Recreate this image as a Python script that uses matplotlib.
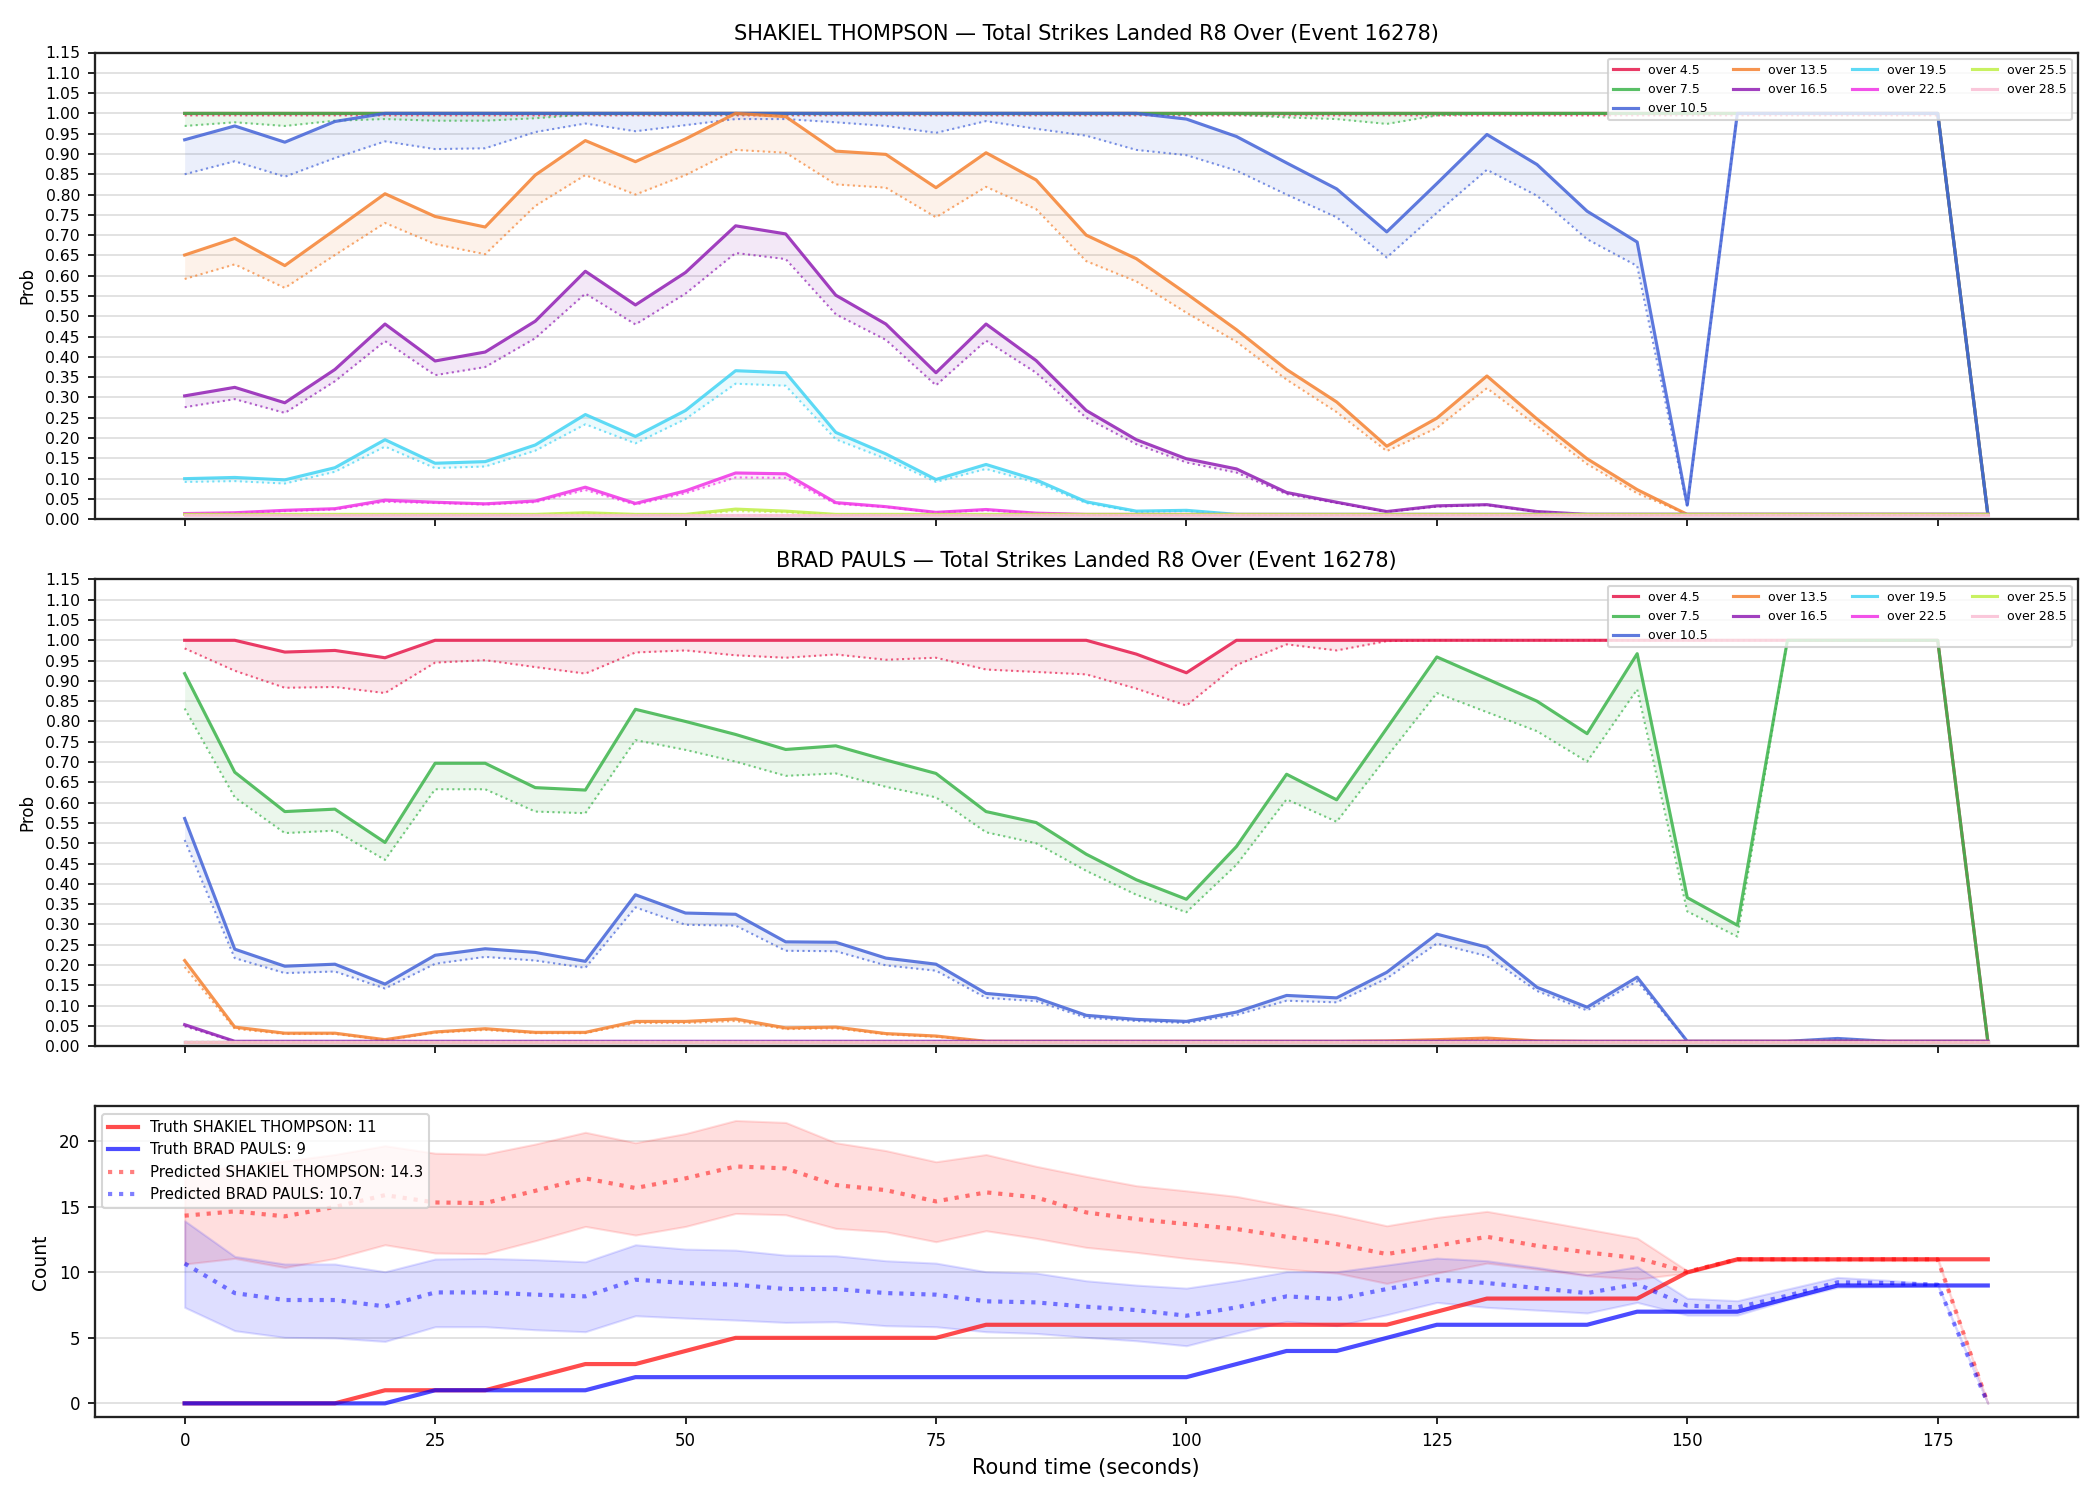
import numpy as np
import matplotlib
matplotlib.use("Agg")
import matplotlib.pyplot as plt

# round time, 5 second steps
t = np.arange(0, 181, 5)

thresholds = ["over 4.5", "over 7.5", "over 10.5", "over 13.5", "over 16.5",
              "over 19.5", "over 22.5", "over 25.5", "over 28.5"]
colors = ["#e6194b", "#3cb44b", "#4363d8", "#f58231", "#911eb4",
          "#42d4f4", "#f032e6", "#bfef45", "#fabed4"]

# ---- SHAKIEL THOMPSON: solid = market, dotted = model
thompson_line = [
    [1.0] * 36 + [0.013],
    [1.0] * 36 + [0.013],
    [0.935, 0.969, 0.929, 0.98] + [1.0] * 16
    + [0.986, 0.943, 0.878, 0.814, 0.708, 0.827, 0.948, 0.874, 0.759, 0.683, 0.035]
    + [1.0] * 5 + [0.013],
    [0.651, 0.692, 0.625, 0.713, 0.802, 0.746, 0.72, 0.848, 0.933, 0.881, 0.937, 1.0,
     0.992, 0.907, 0.899, 0.817, 0.903, 0.836, 0.70, 0.642, 0.556, 0.467, 0.369, 0.289,
     0.18, 0.249, 0.353, 0.247, 0.149, 0.073, 0.012] + [0.012] * 6,
    [0.304, 0.325, 0.287, 0.369, 0.481, 0.39, 0.412, 0.488, 0.611, 0.528, 0.608, 0.723,
     0.703, 0.552, 0.481, 0.361, 0.481, 0.391, 0.268, 0.196, 0.149, 0.124, 0.066, 0.042,
     0.019, 0.033, 0.036, 0.019, 0.012] + [0.012] * 8,
    [0.1, 0.103, 0.097, 0.127, 0.196, 0.138, 0.142, 0.183, 0.258, 0.204, 0.268, 0.366,
     0.361, 0.214, 0.161, 0.098, 0.135, 0.097, 0.043, 0.02, 0.022, 0.012] + [0.012] * 15,
    [0.014, 0.016, 0.022, 0.026, 0.047, 0.042, 0.038, 0.045, 0.079, 0.039, 0.07, 0.114,
     0.112, 0.041, 0.031, 0.017, 0.024, 0.015, 0.012] + [0.012] * 18,
    [0.012] * 8 + [0.016, 0.012, 0.012, 0.025, 0.02] + [0.012] * 24,
    [0.011] * 37,
]
thompson_model = [
    [0.995] * 36 + [0.013],
    [0.969, 0.978, 0.969, 0.982, 0.986, 0.982, 0.982, 0.988] + [0.997] * 14
    + [0.99, 0.986, 0.974, 0.995] + [1.0] * 10 + [0.013],
    [0.85, 0.882, 0.844, 0.89, 0.931, 0.912, 0.914, 0.954, 0.975, 0.956, 0.971, 0.986,
     0.986, 0.978, 0.969, 0.952, 0.981, 0.962, 0.945, 0.91, 0.897, 0.859, 0.80, 0.744,
     0.645, 0.755, 0.861, 0.797, 0.69, 0.624, 0.03] + [1.0] * 5 + [0.013],
    [0.592, 0.628, 0.57, 0.651, 0.73, 0.678, 0.653, 0.772, 0.848, 0.80, 0.848, 0.91,
     0.903, 0.825, 0.817, 0.744, 0.819, 0.764, 0.636, 0.586, 0.509, 0.437, 0.344, 0.264,
     0.168, 0.225, 0.323, 0.23, 0.136, 0.064, 0.012] + [0.012] * 6,
    [0.276, 0.296, 0.262, 0.34, 0.439, 0.355, 0.375, 0.446, 0.556, 0.48, 0.556, 0.656,
     0.641, 0.505, 0.442, 0.33, 0.44, 0.361, 0.25, 0.185, 0.14, 0.115, 0.062, 0.04,
     0.018, 0.031, 0.035, 0.018, 0.012] + [0.012] * 8,
    [0.092, 0.094, 0.088, 0.117, 0.179, 0.126, 0.13, 0.169, 0.234, 0.187, 0.247, 0.334,
     0.329, 0.197, 0.149, 0.092, 0.124, 0.09, 0.04, 0.018, 0.02, 0.012] + [0.012] * 15,
    [0.013, 0.015, 0.02, 0.024, 0.043, 0.04, 0.036, 0.042, 0.072, 0.036, 0.064, 0.103,
     0.102, 0.038, 0.03, 0.016, 0.022, 0.014, 0.012] + [0.012] * 18,
    [0.011] * 8 + [0.014, 0.011, 0.011, 0.02, 0.017] + [0.011] * 24,
    [0.010] * 37,
]

# ---- BRAD PAULS
pauls_line = [
    [1.0, 1.0, 0.971, 0.975, 0.957] + [1.0] * 14 + [0.966, 0.92] + [1.0] * 15 + [0.012],
    [0.918, 0.675, 0.578, 0.584, 0.502, 0.697, 0.697, 0.637, 0.631, 0.83, 0.8, 0.768,
     0.731, 0.74, 0.705, 0.672, 0.578, 0.551, 0.473, 0.41, 0.362, 0.492, 0.67, 0.607,
     0.783, 0.959, 0.905, 0.85, 0.77, 0.967, 0.366, 0.298] + [1.0] * 4 + [0.012],
    [0.561, 0.239, 0.197, 0.202, 0.153, 0.224, 0.24, 0.231, 0.209, 0.373, 0.328, 0.325,
     0.257, 0.256, 0.217, 0.202, 0.13, 0.119, 0.076, 0.066, 0.061, 0.084, 0.125, 0.119,
     0.182, 0.276, 0.244, 0.145, 0.096, 0.17, 0.012, 0.012, 0.012, 0.019, 0.012, 0.012, 0.012],
    [0.211, 0.047, 0.032, 0.032, 0.016, 0.035, 0.043, 0.034, 0.034, 0.061, 0.061, 0.067,
     0.045, 0.047, 0.031, 0.025, 0.012] + [0.012] * 7 + [0.013, 0.016, 0.02, 0.013] + [0.012] * 9,
    [0.053] + [0.012] * 36,
    [0.011] * 37,
    [0.011] * 37,
    [0.011] * 37,
    [0.011] * 37,
]
pauls_model = [
    [0.98, 0.925, 0.883, 0.885, 0.87, 0.945, 0.951, 0.934, 0.918, 0.97, 0.975, 0.963,
     0.957, 0.965, 0.952, 0.957, 0.928, 0.922, 0.916, 0.881, 0.839, 0.939, 0.99, 0.975,
     0.998] + [1.0] * 11 + [0.012],
    [0.832, 0.613, 0.525, 0.531, 0.459, 0.633, 0.633, 0.578, 0.574, 0.754, 0.73, 0.701,
     0.666, 0.672, 0.639, 0.613, 0.527, 0.5, 0.432, 0.373, 0.33, 0.447, 0.608, 0.553,
     0.713, 0.87, 0.823, 0.776, 0.701, 0.879, 0.332, 0.27] + [1.0] * 4 + [0.012],
    [0.508, 0.217, 0.18, 0.184, 0.142, 0.203, 0.22, 0.211, 0.193, 0.342, 0.299, 0.297,
     0.235, 0.234, 0.199, 0.186, 0.119, 0.111, 0.07, 0.062, 0.057, 0.077, 0.112, 0.108,
     0.167, 0.253, 0.222, 0.136, 0.088, 0.16, 0.012, 0.012, 0.012, 0.017, 0.012, 0.012, 0.012],
    [0.195, 0.043, 0.03, 0.03, 0.015, 0.033, 0.04, 0.032, 0.032, 0.057, 0.057, 0.062,
     0.042, 0.044, 0.029, 0.023, 0.012] + [0.012] * 7 + [0.012, 0.014, 0.017, 0.012] + [0.012] * 9,
    [0.049] + [0.011] * 36,
    [0.010] * 37,
    [0.010] * 37,
    [0.010] * 37,
    [0.010] * 37,
]

# ---- counts
truth_thompson = [0, 0, 0, 0, 1, 1, 1, 2, 3, 3, 4, 5, 5, 5, 5, 5, 6, 6, 6, 6, 6, 6, 6, 6, 6,
                  7, 8, 8, 8, 8, 10, 11, 11, 11, 11, 11, 11]
truth_pauls = [0, 0, 0, 0, 0, 1, 1, 1, 1, 2, 2, 2, 2, 2, 2, 2, 2, 2, 2, 2, 2, 3, 4, 4, 5,
               6, 6, 6, 6, 7, 7, 7, 8, 9, 9, 9, 9]
pred_thompson = [14.33, 14.66, 14.28, 15.0, 15.9, 15.34, 15.29, 16.23, 17.18, 16.44, 17.18,
                 18.09, 17.94, 16.67, 16.28, 15.42, 16.11, 15.73, 14.58, 14.07, 13.69, 13.31,
                 12.72, 12.16, 11.4, 12.03, 12.72, 12.03, 11.53, 11.09, 10.05, 11.0, 11.0,
                 11.0, 11.0, 11.0, 0.0]
hi_thompson = [17.5, 18.1, 18.5, 19.0, 19.67, 19.1, 19.03, 19.8, 20.7, 19.9, 20.6, 21.6,
               21.45, 19.9, 19.3, 18.45, 19.0, 18.1, 17.33, 16.62, 16.23, 15.8, 15.09, 14.4,
               13.56, 14.2, 14.66, 14.0, 13.31, 12.62, 10.13, 11.1, 11.1, 11.1, 11.1, 11.1, 0.0]
lo_thompson = [10.64, 11.07, 10.38, 11.07, 12.11, 11.48, 11.43, 12.42, 13.51, 12.85, 13.51,
               14.5, 14.4, 13.36, 13.1, 12.34, 13.18, 12.6, 11.91, 11.53, 11.07, 10.71, 10.25,
               9.95, 9.16, 9.95, 10.71, 10.25, 9.75, 9.49, 9.95, 10.9, 10.9, 10.9, 10.9, 10.9, 0.0]
pred_pauls = [10.68, 8.42, 7.89, 7.89, 7.4, 8.47, 8.47, 8.3, 8.17, 9.44, 9.19, 9.06, 8.73,
              8.73, 8.42, 8.3, 7.79, 7.71, 7.38, 7.12, 6.69, 7.33, 8.17, 7.96, 8.73, 9.44,
              9.19, 8.8, 8.42, 9.11, 7.46, 7.33, 8.22, 9.24, 9.19, 9.06, 0.0]
hi_pauls = [13.94, 11.22, 10.64, 10.64, 10.05, 11.02, 11.07, 10.97, 10.81, 12.11, 11.78, 11.7,
            11.32, 11.27, 10.89, 10.71, 10.05, 9.95, 9.36, 9.03, 8.8, 9.36, 10.05, 10.05,
            10.56, 11.09, 10.89, 10.38, 9.82, 10.43, 8.02, 7.84, 8.73, 9.62, 9.4, 9.1, 0.0]
lo_pauls = [7.33, 5.55, 5.04, 4.99, 4.73, 5.85, 5.85, 5.62, 5.47, 6.69, 6.51, 6.36, 6.18,
            6.23, 5.93, 5.85, 5.47, 5.34, 5.04, 4.78, 4.4, 5.37, 6.26, 5.93, 6.77, 7.71, 7.33,
            7.12, 6.9, 7.71, 6.74, 6.74, 7.9, 8.86, 8.9, 9.0, 0.0]


def prob_panel(ax, name, line_vals, model_vals):
    for label, c, a, b in zip(thresholds, colors, line_vals, model_vals):
        ax.fill_between(t, a, b, color=c, alpha=0.1, linewidth=0)
        ax.plot(t, a, color=c, lw=1.5, alpha=0.85, label=label)
        ax.plot(t, b, color=c, lw=1.0, ls=":", alpha=0.7)
    ax.set_ylim(0, 1.15)
    ax.set_yticks(np.arange(0, 1.151, 0.05))
    ax.yaxis.set_major_formatter(matplotlib.ticker.FormatStrFormatter("%.2f"))
    ax.set_ylabel("Prob", fontsize=8)
    ax.set_title(f"{name} — Total Strikes Landed R8 Over (Event 16278)", fontsize=10)
    ax.grid(axis="y", color="#dddddd", lw=0.8)
    ax.set_axisbelow(True)
    ax.tick_params(labelsize=7.5)
    ax.legend(loc="upper right", ncol=4, fontsize=6, framealpha=0.8)
    plt.setp(ax.get_xticklabels(), visible=False)


fig, axes = plt.subplots(3, 1, figsize=(14, 10), dpi=150, sharex=True,
                         gridspec_kw={"height_ratios": [3, 3, 2]})
fig.subplots_adjust(left=0.045, right=0.9895, top=0.965, bottom=0.055, hspace=0.145)

prob_panel(axes[0], "SHAKIEL THOMPSON", thompson_line, thompson_model)
prob_panel(axes[1], "BRAD PAULS", pauls_line, pauls_model)

ax = axes[2]
ax.fill_between(t, lo_thompson, hi_thompson, color="red", alpha=0.13)
ax.fill_between(t, lo_pauls, hi_pauls, color="blue", alpha=0.13)
ax.plot(t, truth_thompson, color="red", lw=2, alpha=0.7,
        label=f"Truth SHAKIEL THOMPSON: {truth_thompson[-1]}")
ax.plot(t, truth_pauls, color="blue", lw=2, alpha=0.7,
        label=f"Truth BRAD PAULS: {truth_pauls[-1]}")
ax.plot(t, pred_thompson, color="red", lw=2, ls=":", alpha=0.5,
        label=f"Predicted SHAKIEL THOMPSON: {pred_thompson[0]:.1f}")
ax.plot(t, pred_pauls, color="blue", lw=2, ls=":", alpha=0.5,
        label=f"Predicted BRAD PAULS: {pred_pauls[0]:.1f}")
ax.set_ylabel("Count", fontsize=9)
ax.set_xlabel("Round time (seconds)", fontsize=10)
ax.grid(axis="y", color="#dddddd", lw=0.8)
ax.set_axisbelow(True)
ax.tick_params(labelsize=8)
ax.legend(loc="upper left", fontsize=7.2, framealpha=0.8)
ax.set_xticks([0, 25, 50, 75, 100, 125, 150, 175])
ax.xaxis.set_tick_params(labelbottom=True)

for a in axes:
    for s in a.spines.values():
        s.set_linewidth(1.1)
        s.set_color("#222222")

fig.savefig("out.png", dpi=150)
